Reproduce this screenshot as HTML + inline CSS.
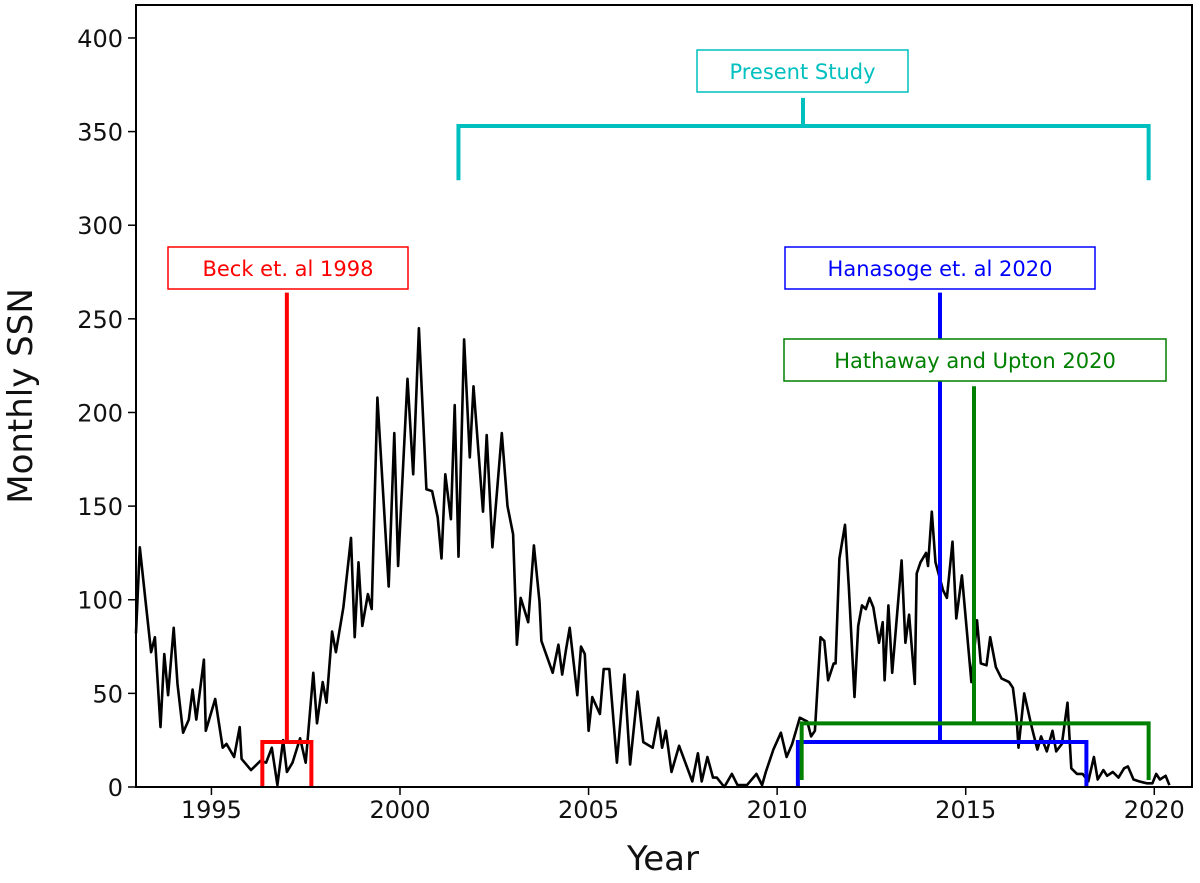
<!DOCTYPE html>
<html><head><meta charset="utf-8">
<style>
html,body{margin:0;padding:0;background:#fff;}
svg{display:block;font-family:"DejaVu Sans","Liberation Sans",sans-serif;}
</style></head>
<body>
<svg id="chart" width="1200" height="883" viewBox="0 0 1200 883" xmlns="http://www.w3.org/2000/svg">
<g id="plot"></g>
</svg>
<script>
const years = [1993.0,1993.1,1993.25,1993.4,1993.5,1993.65,1993.75,1993.85,1994.0,1994.1,1994.25,1994.4,1994.5,1994.6,1994.8,1994.85,1995.1,1995.3,1995.4,1995.6,1995.75,1995.8,1996.05,1996.3,1996.45,1996.6,1996.75,1996.9,1997.0,1997.15,1997.35,1997.5,1997.7,1997.8,1997.95,1998.05,1998.2,1998.3,1998.5,1998.7,1998.8,1998.9,1999.0,1999.15,1999.25,1999.4,1999.7,1999.85,1999.95,2000.2,2000.35,2000.5,2000.7,2000.85,2001.0,2001.1,2001.2,2001.35,2001.45,2001.55,2001.7,2001.85,2001.95,2002.2,2002.3,2002.45,2002.7,2002.85,2003.0,2003.1,2003.2,2003.4,2003.55,2003.7,2003.75,2004.05,2004.2,2004.3,2004.4,2004.5,2004.7,2004.8,2004.9,2005.0,2005.1,2005.3,2005.4,2005.55,2005.75,2005.95,2006.1,2006.3,2006.45,2006.7,2006.85,2006.95,2007.05,2007.2,2007.4,2007.75,2007.9,2008.0,2008.15,2008.3,2008.4,2008.6,2008.8,2008.95,2009.2,2009.45,2009.6,2009.7,2009.9,2010.1,2010.25,2010.4,2010.6,2010.8,2010.9,2011.0,2011.15,2011.25,2011.35,2011.5,2011.55,2011.65,2011.8,2011.9,2012.05,2012.15,2012.25,2012.35,2012.45,2012.55,2012.7,2012.8,2012.85,2012.95,2013.05,2013.3,2013.4,2013.5,2013.65,2013.7,2013.8,2013.95,2014.0,2014.1,2014.2,2014.4,2014.5,2014.65,2014.75,2014.9,2015.15,2015.3,2015.4,2015.55,2015.65,2015.8,2015.95,2016.15,2016.25,2016.35,2016.4,2016.55,2016.75,2016.9,2017.0,2017.15,2017.3,2017.4,2017.55,2017.7,2017.8,2017.95,2018.1,2018.25,2018.4,2018.5,2018.65,2018.75,2018.9,2019.05,2019.2,2019.3,2019.45,2019.6,2019.8,2019.95,2020.05,2020.15,2020.3,2020.4];
const ssn = [82,128,100,72,80,32,71,49,85,55,29,36,52,36,68,30,47,21,23,16,32,15,9,14,13,21,1,25,8,13,26,13,61,34,56,45,83,72,96,133,80,120,86,103,95,208,107,189,118,218,167,245,159,158,144,122,167,143,204,123,239,176,214,147,188,128,189,150,135,76,101,88,129,99,78,61,76,60,73,85,49,75,71,30,48,39,63,63,13,60,12,51,24,21,37,21,30,8,22,3,18,3,16,5,5,0,7,1,1,7,1,8,20,29,16,23,37,35,27,30,80,78,57,66,66,122,140,107,48,86,97,95,101,96,77,88,57,97,61,121,77,92,55,114,120,125,118,147,120,105,101,131,90,113,56,89,66,65,80,64,58,56,53,37,21,50,32,20,27,19,30,19,23,45,10,7,7,3,16,4,9,6,8,5,10,11,4,3,2,2,7,4,6,1];
const xTicks = [1995,2000,2005,2010,2015,2020];
const yTicks = [0,50,100,150,200,250,300,350,400];
// annotation spans [start, end, barHeight, stemTop]
const beckSpan = [1996.35,1997.65,24,264];
const hanSpan = [2010.55,2018.2,24,264];
const hathSpan = [2010.65,2019.85,34,214];
const presentSpan = [2001.55,2019.85,353,368];

const L=136,R=1192,T=5,B=787;
const X0=1993,X1=2021,Y0=0,Y1=417.6;
const sx=v=>L+(v-X0)/(X1-X0)*(R-L);
const sy=v=>B-(v-Y0)/(Y1-Y0)*(B-T);
const NS="http://www.w3.org/2000/svg";
const g=document.getElementById('plot');
function mk(tag,attrs,parent){const e=document.createElementNS(NS,tag);for(const k in attrs)e.setAttribute(k,attrs[k]);(parent||g).appendChild(e);return e;}

let d='';
years.forEach((y,i)=>{d+=(i?'L':'M')+sx(y).toFixed(1)+','+sy(ssn[i]).toFixed(1);});
const line=mk('path',{d:d,fill:'none',stroke:'#000','stroke-width':2.6,'stroke-linejoin':'round'});



function bracket(span,color,name,endBottom,label,box){
  const [a,b,h,top]=span;
  const grp=mk('g',{});
  
  
  const mid=(a+b)/2;
  mk('path',{d:`M${sx(a)},${endBottom}L${sx(a)},${sy(h)}L${sx(b)},${sy(h)}L${sx(b)},${endBottom}`,fill:'none',stroke:color,'stroke-width':4},grp);
  const stemX=box.stemX!==undefined?box.stemX:sx(mid);
  mk('line',{x1:stemX,y1:sy(h),x2:stemX,y2:sy(top),stroke:color,'stroke-width':4},grp);
  mk('rect',{x:box.x,y:box.y,width:box.w,height:box.h,fill:'#fff',stroke:color,'stroke-width':1.5},grp);
  const t=mk('text',{x:box.x+box.w/2,y:box.y+box.h/2+8,'text-anchor':'middle','font-size':21,fill:color},grp);
  t.textContent=label;
  
  
}
bracket(beckSpan,'#ff0000','beck-bracket',sy(0),'Beck et. al 1998',{x:168,y:247,w:240,h:42});
bracket(hanSpan,'#0000ff','hanasoge-bracket',sy(0),'Hanasoge et. al 2020',{x:785,y:247,w:310,h:42,stemX:940});
bracket(hathSpan,'#008000','hathaway-bracket',780,'Hathaway and Upton 2020',{x:784,y:339,w:382,h:42,stemX:974});
bracket(presentSpan,'#00bfbf','present-study-bracket',sy(324),'Present Study',{x:697,y:50,w:211,h:42,stemX:803});

const fr=mk('rect',{x:L,y:T,width:R-L,height:B-T,fill:'none',stroke:'#000','stroke-width':2});



xTicks.forEach(v=>{
  const x=sx(v);
  const tk=mk('line',{x1:x,y1:B,x2:x,y2:B+8,stroke:'#000','stroke-width':1.5});
  
  
  const t=mk('text',{x:x,y:B+31,'text-anchor':'middle','font-size':24,fill:'#111'});
  t.textContent=v;
  
  
});
yTicks.forEach(v=>{
  const y=sy(v);
  const tk=mk('line',{x1:L-8,y1:y,x2:L,y2:y,stroke:'#000','stroke-width':1.5});
  
  
  const t=mk('text',{x:L-13,y:y+9,'text-anchor':'end','font-size':24,fill:'#111'});
  t.textContent=v;
  
  
});
const xt=mk('text',{x:663,y:870,'text-anchor':'middle','font-size':34,fill:'#111'});
xt.textContent='Year';


const yt=mk('text',{x:0,y:0,'text-anchor':'middle','font-size':34,fill:'#111',transform:'translate(32,396) rotate(-90)'});
yt.textContent='Monthly SSN';


</script>
</body></html>
